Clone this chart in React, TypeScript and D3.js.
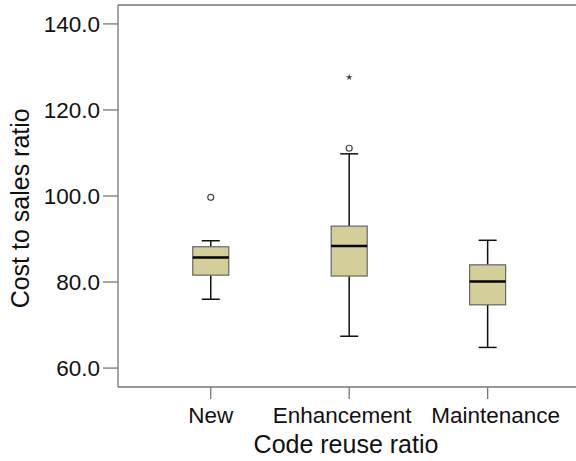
import React from "react";
import * as d3 from "d3";

const categories = ["New", "Enhancement", "Maintenance"];
const whiskerLow = [76.0, 67.4, 64.8];
const q1 = [81.6, 81.4, 74.7];
const median = [85.7, 88.4, 80.1];
const q3 = [88.2, 93.0, 84.0];
const whiskerHigh = [89.6, 109.8, 89.7];
const outlierCats = ["New", "Enhancement"];
const outlierValues = [99.7, 111.1];
const extremeCats = ["Enhancement"];
const extremeValues = [127.6];
const yTicks = [60, 80, 100, 120, 140];
const labelShift = [0, -7, 8];

const W = 576;
const H = 461;
const left = 118;
const right = 580.4;
const top = 5;
const bottom = 387;

export default function App() {
  const x = d3.scalePoint<string>().domain(categories).range([left, right]).padding(0.67);
  const y = d3.scaleLinear().domain([55.6, 144.4]).range([bottom, top]);
  const boxW = 36;
  const capW = 18;
  const font = "Arial, 'Liberation Sans', sans-serif";
  const axisColor = "#777";
  const star = d3.symbol().type(d3.symbolStar).size(14)() as string;

  return (
    <svg width={W} height={H} style={{ position: "absolute", left: 0, top: 0 }}>
      <rect x={0} y={0} width={W} height={H} fill="#fff" />
      {/* frame */}
      <line x1={left} x2={W} y1={top} y2={top} stroke={axisColor} strokeWidth={1.3} />
      <line x1={left} x2={left} y1={top} y2={bottom} stroke={axisColor} strokeWidth={1.3} />
      <line x1={left} x2={W} y1={bottom} y2={bottom} stroke={axisColor} strokeWidth={1.3} />
      {/* y ticks */}
      {yTicks.map((t) => (
        <g key={t}>
          <line x1={left - 15} x2={left} y1={y(t)} y2={y(t)} stroke={axisColor} strokeWidth={1.3} />
          <text x={left - 18} y={y(t)} dy="0.36em" textAnchor="end" fontFamily={font} fontSize={22.5} fill="#111">
            {t.toFixed(1)}
          </text>
        </g>
      ))}
      {/* x ticks */}
      {categories.map((c, i) => (
        <g key={c}>
          <line x1={x(c)} x2={x(c)} y1={bottom} y2={bottom + 12} stroke={axisColor} strokeWidth={1.3} />
          <text x={(x(c) as number) + labelShift[i]} y={423} textAnchor="middle" fontFamily={font} fontSize={22.5} fill="#111">
            {c}
          </text>
        </g>
      ))}
      <text x={346} y={453} textAnchor="middle" fontFamily={font} fontSize={25} fill="#111">
        Code reuse ratio
      </text>
      <text transform={`translate(28.5,208.3) rotate(-90)`} textAnchor="middle" fontFamily={font} fontSize={25} fill="#111">
        Cost to sales ratio
      </text>
      {/* boxes */}
      {categories.map((c, i) => {
        const cx = x(c) as number;
        return (
          <g key={c}>
            <line x1={cx} x2={cx} y1={y(whiskerHigh[i])} y2={y(q3[i])} stroke="#111" strokeWidth={1.5} />
            <line x1={cx} x2={cx} y1={y(q1[i])} y2={y(whiskerLow[i])} stroke="#111" strokeWidth={1.5} />
            <line x1={cx - capW / 2} x2={cx + capW / 2} y1={y(whiskerHigh[i])} y2={y(whiskerHigh[i])} stroke="#111" strokeWidth={1.5} />
            <line x1={cx - capW / 2} x2={cx + capW / 2} y1={y(whiskerLow[i])} y2={y(whiskerLow[i])} stroke="#111" strokeWidth={1.5} />
            <rect x={cx - boxW / 2} y={y(q3[i])} width={boxW} height={y(q1[i]) - y(q3[i])} fill="#D4CF98" stroke="#666" strokeWidth={1.2} />
            <line x1={cx - boxW / 2} x2={cx + boxW / 2} y1={y(median[i])} y2={y(median[i])} stroke="#000" strokeWidth={2.5} />
          </g>
        );
      })}
      {outlierCats.map((c, i) => (
        <circle key={"o" + i} cx={x(c)} cy={y(outlierValues[i])} r={3} fill="#fff" stroke="#444" strokeWidth={1.2} />
      ))}
      {extremeCats.map((c, i) => (
        <path key={"e" + i} d={star} transform={`translate(${x(c)},${y(extremeValues[i])})`} fill="#444" />
      ))}
    </svg>
  );
}
